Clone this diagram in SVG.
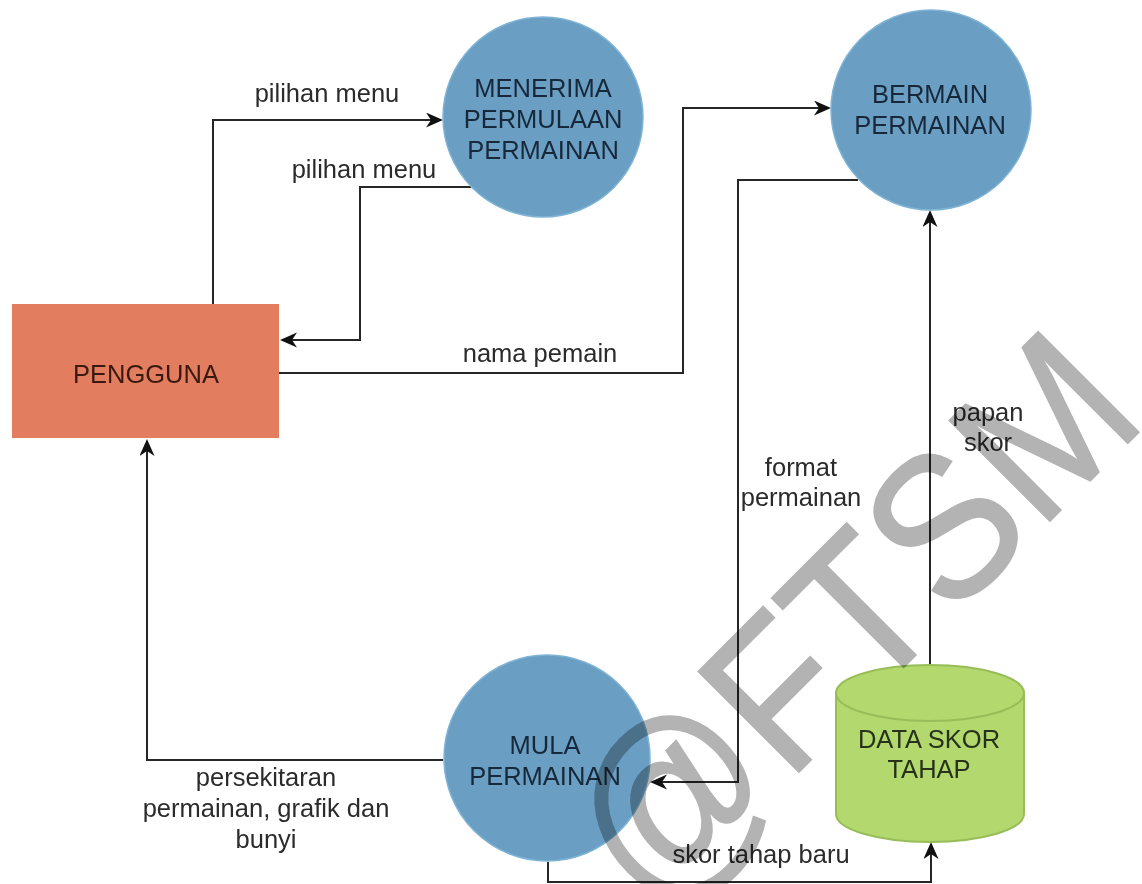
<svg xmlns="http://www.w3.org/2000/svg" width="1142" height="884" viewBox="0 0 1142 884">
  <style>
    .lbl { font-family: "Liberation Sans", Arial, sans-serif; font-size: 25.5px; fill: #2b2b2b; text-anchor: middle; }
    .ntxt { font-family: "Liberation Sans", Arial, sans-serif; font-size: 25.5px; text-anchor: middle; }
    .proc { fill: #6a9fc3; stroke: #7fb3d6; stroke-width: 1.5; }
    .conn { fill: none; stroke: #262626; stroke-width: 2; }
    .wm { font-family: "Liberation Sans", Arial, sans-serif; font-size: 188px; fill: #b3b3b3; stroke: #b3b3b3; stroke-width: 1.5; mix-blend-mode: multiply; }
  </style>
  <defs>
    <marker id="arr" markerUnits="userSpaceOnUse" markerWidth="18" markerHeight="16" refX="14" refY="7.5" orient="auto">
      <path d="M0,0 L17,7.5 L0,15 L5,7.5 Z" fill="#111"/>
    </marker>
  </defs>
  <rect width="1142" height="884" fill="#ffffff"/>

  <g id="connectors">
    <path class="conn" d="M213,304 L213,120 L440,120" marker-end="url(#arr)"/>
    <path class="conn" d="M471,187 L360,187 L360,340 L283,340" marker-end="url(#arr)"/>
    <path class="conn" d="M279,373 L683,373 L683,108 L828,108" marker-end="url(#arr)"/>
    <path class="conn" d="M858,180 L738,180 L738,782 L653,782" marker-end="url(#arr)"/>
    <path class="conn" d="M930,665 L930,213" marker-end="url(#arr)"/>
    <path class="conn" d="M548,862 L548,882 L931,882 L931,845" marker-end="url(#arr)"/>
    <path class="conn" d="M443,760 L147,760 L147,442" marker-end="url(#arr)"/>
  </g>

  <g id="labels">
    <text class="lbl" x="327" y="102">pilihan menu</text>
    <text class="lbl" x="364" y="178">pilihan menu</text>
    <text class="lbl" x="540" y="362">nama pemain</text>
    <text class="lbl" x="801" y="476">format</text>
    <text class="lbl" x="801" y="506">permainan</text>
    <text class="lbl" x="988" y="421">papan</text>
    <text class="lbl" x="988" y="451">skor</text>
    <text class="lbl" x="761" y="863">skor tahap baru</text>
    <text class="lbl" x="266" y="786">persekitaran</text>
    <text class="lbl" x="266" y="817">permainan, grafik dan</text>
    <text class="lbl" x="266" y="848">bunyi</text>
  </g>

  <g id="pengguna">
    <rect x="12" y="304" width="267" height="134" fill="#e27d5f"/>
    <text class="ntxt" x="146" y="383" fill="#3a1a10">PENGGUNA</text>
  </g>

  <g id="menerima">
    <circle class="proc" cx="543" cy="117" r="100"/>
    <text class="ntxt" x="543" y="97" fill="#17283a">MENERIMA</text>
    <text class="ntxt" x="543" y="128" fill="#17283a">PERMULAAN</text>
    <text class="ntxt" x="543" y="159" fill="#17283a">PERMAINAN</text>
  </g>

  <g id="bermain">
    <circle class="proc" cx="931" cy="110" r="100"/>
    <text class="ntxt" x="930" y="103" fill="#17283a">BERMAIN</text>
    <text class="ntxt" x="930" y="134" fill="#17283a">PERMAINAN</text>
  </g>

  <g id="mula">
    <circle class="proc" cx="547" cy="758" r="103"/>
    <text class="ntxt" x="545" y="754" fill="#17283a">MULA</text>
    <text class="ntxt" x="545" y="785" fill="#17283a">PERMAINAN</text>
  </g>

  <g id="data-skor">
    <path d="M836,693 A94,28 0 0 1 1024,693 L1024,814 A94,28 0 0 1 836,814 Z" fill="#b3d86d" stroke="#97bd58" stroke-width="2"/>
    <path d="M836,693 A94,28 0 0 0 1024,693" fill="none" stroke="#97bd58" stroke-width="2"/>
    <text class="ntxt" x="929" y="748" fill="#26331a">DATA SKOR</text>
    <text class="ntxt" x="929" y="778" fill="#26331a">TAHAP</text>
  </g>

  <g id="watermark">
    <text class="wm" transform="translate(653,918) rotate(-45) scale(1,1.1)">@FTSM</text>
  </g>
</svg>
